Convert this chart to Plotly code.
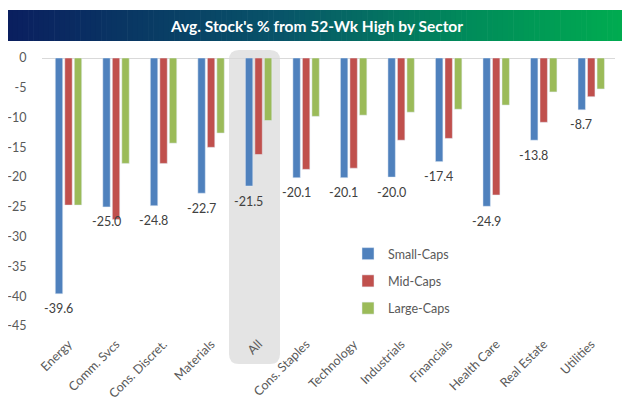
import plotly.graph_objects as go

sectors = ["Energy", "Comm. Svcs", "Cons. Discret.", "Materials", "All", "Cons. Staples",
           "Technology", "Industrials", "Financials", "Health Care", "Real Estate", "Utilities"]
small_caps = [-39.6, -25.0, -24.8, -22.7, -21.5, -20.1, -20.1, -20.0, -17.4, -24.9, -13.8, -8.7]
mid_caps = [-24.7, -27.1, -17.7, -15.0, -16.2, -18.7, -18.5, -13.8, -13.5, -23.0, -10.8, -6.5]
large_caps = [-24.7, -17.7, -14.3, -12.6, -10.5, -9.8, -9.6, -9.1, -8.6, -7.9, -5.7, -5.2]
y_tick_vals = [0, -5, -10, -15, -20, -25, -30, -35, -40, -45]
y_tick_text = ["0", "-5", "-10", "-15", "-20", "-25", "-30", "-35", "-40", "-45"]
title_text = "Avg. Stock's % from 52-Wk High by Sector"

FONT = "Lato, 'Open Sans', sans-serif"
GRAY = "#595959"

fig = go.Figure()
fig.add_trace(go.Bar(name="Small-Caps", x=sectors, y=small_caps, marker_color="#4F81BD",
                     legendgroup="s"))
fig.add_trace(go.Bar(name="Mid-Caps", x=sectors, y=mid_caps, marker_color="#C0504D",
                     legendgroup="m"))
fig.add_trace(go.Bar(name="Large-Caps", x=sectors, y=large_caps, marker_color="#9BBB59",
                     legendgroup="l"))

# page body has an 8px margin: figure is sized/offset so the 630x400 view matches
OFF = 8
W, H = 630 - OFF, 400 - OFF
plot_l, plot_r, plot_t, plot_b = 42, 615, 58, 326   # target screen pixels
ml, mr, mt, mb = plot_l - OFF, W - (plot_r - OFF), plot_t - OFF, H - (plot_b - OFF)
pw = W - ml - mr
ph = H - mt - mb

def px2paper_x(px):
    return (px - OFF - ml) / pw

def px2paper_y(py):
    return (H - mb - (py - OFF)) / ph

shapes = []
stops = [(0.0, (10, 30, 95)), (0.45, (8, 85, 105)), (0.75, (0, 140, 90)), (1.0, (0, 172, 80))]
def grad(t):
    for i in range(len(stops) - 1):
        t0, c0 = stops[i]
        t1, c1 = stops[i + 1]
        if t0 <= t <= t1:
            f = (t - t0) / (t1 - t0)
            return tuple(int(round(c0[k] + (c1[k] - c0[k]) * f)) for k in range(3))
    return stops[-1][1]

n = 120
x0, x1 = 2, 628
for i in range(n):
    a = x0 + (x1 - x0) * i / n
    b = x0 + (x1 - x0) * (i + 1) / n + 0.6
    c = grad(i / (n - 1))
    shapes.append(dict(type="rect", xref="paper", yref="paper",
                       x0=px2paper_x(a), x1=px2paper_x(b),
                       y0=px2paper_y(41), y1=px2paper_y(10),
                       fillcolor=f"rgb{c}", line=dict(width=0), layer="below"))

lx, rx, ty, by = px2paper_x(229), px2paper_x(280), px2paper_y(50), px2paper_y(364)
rxr, ryr = 10 / pw, 10 / ph
path = (f"M {lx+rxr},{ty} L {rx-rxr},{ty} Q {rx},{ty} {rx},{ty-ryr} "
        f"L {rx},{by+ryr} Q {rx},{by} {rx-rxr},{by} L {lx+rxr},{by} Q {lx},{by} {lx},{by+ryr} "
        f"L {lx},{ty-ryr} Q {lx},{ty} {lx+rxr},{ty} Z")
shapes.append(dict(type="path", path=path, xref="paper", yref="paper",
                   fillcolor="#e4e4e4", line=dict(width=0), layer="below"))

annotations = [dict(text=f"<b>{title_text}</b>", xref="paper", yref="paper",
                    x=px2paper_x(316), y=px2paper_y(25.5), xanchor="center", yanchor="middle",
                    showarrow=False, font=dict(family=FONT, size=15.5, color="white"))]
# Small-Caps data labels below the blue bars (blue bar is the first of 3 in each group)
for s, v in zip(sectors, small_caps):
    annotations.append(dict(text=f"{v:.1f}", x=s, y=v, xref="x", yref="y",
                            xanchor="center", yanchor="middle", xshift=-10, yshift=-15,
                            showarrow=False,
                            font=dict(family=FONT, size=12.5, color="#404040")))

fig.update_layout(
    width=W, height=H,
    margin=dict(l=ml, r=mr, t=mt, b=mb, autoexpand=False),
    paper_bgcolor="white", plot_bgcolor="rgba(0,0,0,0)",
    barmode="group", bargap=0.40, bargroupgap=0.22,
    font=dict(family=FONT, color=GRAY, size=12),
    shapes=shapes,
    annotations=annotations,
    legend=dict(x=px2paper_x(348), y=px2paper_y(239), xanchor="left", yanchor="top",
                bgcolor="rgba(0,0,0,0)", font=dict(size=12.5, color=GRAY, family=FONT),
                traceorder="grouped", tracegroupgap=8, itemwidth=30),
    xaxis=dict(tickangle=-45, showgrid=False, showline=False, ticks="outside", ticklen=5,
               tickcolor="rgba(0,0,0,0)", tickfont=dict(size=12.5, color=GRAY), automargin=False),
    yaxis=dict(range=[-45, 0], tickvals=y_tick_vals, ticktext=y_tick_text, showgrid=False,
               zeroline=True, zerolinecolor="#d9d9d9", zerolinewidth=1, showline=False,
               ticks="outside", ticklen=12, tickcolor="rgba(0,0,0,0)",
               tickfont=dict(size=12.5, color=GRAY), automargin=False),
    showlegend=True,
)

fig.write_html("out.html")
